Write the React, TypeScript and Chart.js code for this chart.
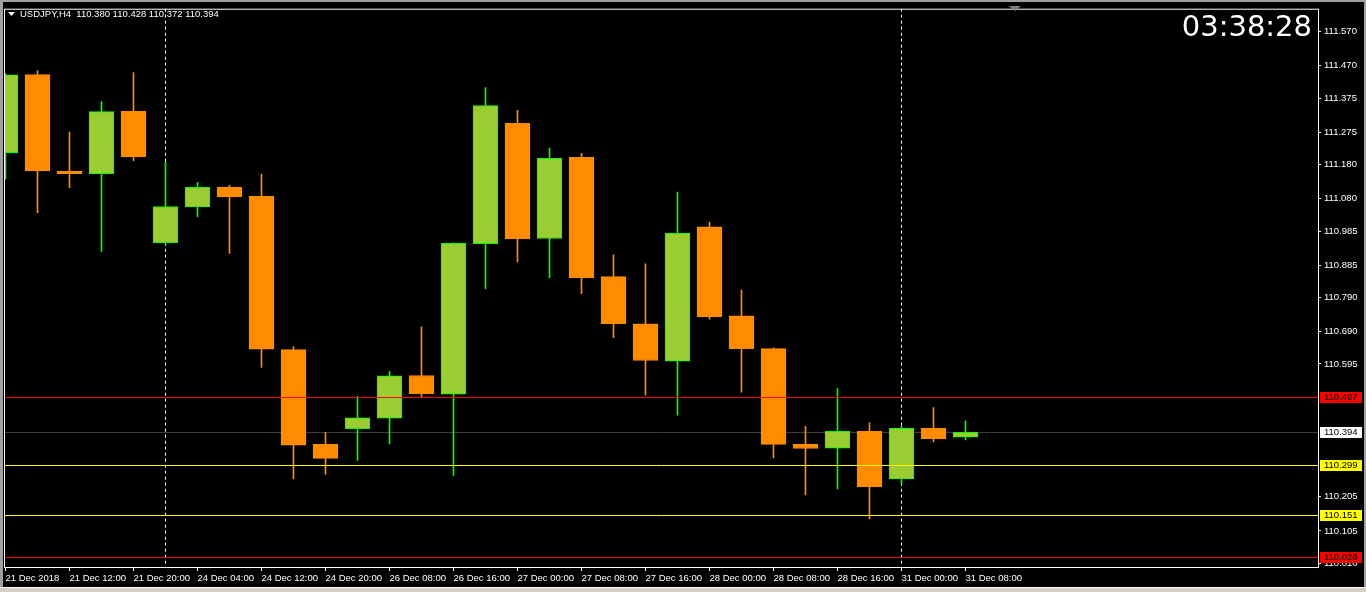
import React, { useEffect, useRef } from "react";
import { Chart, registerables } from "chart.js";

Chart.register(...registerables);

// ---- data ----
const timeLabels = [
  "21 Dec 2018", "21 Dec 08:00", "21 Dec 12:00", "21 Dec 16:00", "21 Dec 20:00",
  "24 Dec 00:00", "24 Dec 04:00", "24 Dec 08:00", "24 Dec 12:00", "24 Dec 16:00",
  "24 Dec 20:00", "26 Dec 04:00", "26 Dec 08:00", "26 Dec 12:00", "26 Dec 16:00",
  "26 Dec 20:00", "27 Dec 00:00", "27 Dec 04:00", "27 Dec 08:00", "27 Dec 12:00",
  "27 Dec 16:00", "27 Dec 20:00", "28 Dec 00:00", "28 Dec 04:00", "28 Dec 08:00",
  "28 Dec 12:00", "28 Dec 16:00", "28 Dec 20:00", "31 Dec 00:00", "31 Dec 04:00",
  "31 Dec 08:00",
];
const timeTickIndexes = [0, 2, 4, 6, 8, 10, 12, 14, 16, 18, 20, 22, 24, 26, 28, 30];

const opens = [
  111.215, 111.444, 111.161, 111.153, 111.336, 110.951, 111.056, 111.114, 111.087, 110.637,
  110.359, 110.405, 110.436, 110.561, 110.506, 110.948, 111.301, 110.963, 111.201, 110.851,
  110.713, 110.603, 110.997, 110.736, 110.640, 110.359, 110.348, 110.397, 110.258, 110.406,
  110.380,
];
const highs = [
  111.447, 111.456, 111.275, 111.365, 111.450, 111.187, 111.128, 111.120, 111.152, 110.646,
  110.394, 110.500, 110.573, 110.704, 110.950, 111.406, 111.339, 111.228, 111.213, 110.915,
  110.889, 111.099, 111.011, 110.812, 110.642, 110.412, 110.523, 110.423, 110.412, 110.467,
  110.428,
];
const lows = [
  111.138, 111.039, 111.112, 110.925, 111.191, 110.945, 111.027, 110.919, 110.585, 110.258,
  110.271, 110.312, 110.360, 110.495, 110.268, 110.816, 110.894, 110.848, 110.801, 110.672,
  110.503, 110.445, 110.726, 110.512, 110.319, 110.211, 110.228, 110.140, 110.243, 110.366,
  110.372,
];
const closes = [
  111.443, 111.161, 111.153, 111.335, 111.202, 111.057, 111.113, 111.085, 110.638, 110.357,
  110.318, 110.437, 110.560, 110.508, 110.949, 111.353, 110.962, 111.198, 110.848, 110.713,
  110.605, 110.978, 110.733, 110.640, 110.359, 110.347, 110.397, 110.234, 110.406, 110.375,
  110.394,
];

const priceTicks = [
  111.570, 111.470, 111.375, 111.275, 111.180, 111.080, 110.985, 110.885, 110.790,
  110.690, 110.595, 110.205, 110.105, 110.010,
];

const levelPrices = [110.497, 110.394, 110.299, 110.151, 110.028];
const levelLineColors = ["#FF0000", "#3C3C3C", "#FFFF00", "#FFFF00", "#FF0000"];
const levelLabelColors = ["#FF0000", "#FFFFFF", "#FFFF00", "#FFFF00", "#FF0000"];
const levelOnTop = [true, false, true, true, true];

const separatorIndexes = [5, 28];

const titleText = "USDJPY,H4  110.380 110.428 110.372 110.394";
const clockText = "03:38:28";

const BULL_FILL = "#9ACD32";
const BULL_EDGE = "#00FF00";
const BEAR_FILL = "#FF8C00";
const FONT = "'Liberation Sans', Arial, sans-serif";

export default function App() {
  const ref = useRef<HTMLCanvasElement | null>(null);

  useEffect(() => {
    const canvas = ref.current;
    if (!canvas) return;

    const bull = closes.map((c, i) => c >= opens[i]);
    const bodyData = opens.map((o, i) => ({ x: i, y: [o, closes[i]] }));
    const wickData = lows.map((l, i) => ({ x: i, y: [l, highs[i]] }));

    const mtPlugin = {
      id: "mtPlugin",
      beforeDatasetsDraw(chart: any) {
        const { ctx, chartArea: a, scales } = chart;
        const xs = scales.x;
        const ys = scales.y;
        ctx.save();
        ctx.strokeStyle = "#FFFFFF";
        ctx.lineWidth = 1;
        ctx.setLineDash([3, 3]);
        separatorIndexes.forEach((idx) => {
          const px = Math.floor(xs.getPixelForValue(idx)) + 0.5;
          ctx.beginPath();
          ctx.moveTo(px, a.top);
          ctx.lineTo(px, a.bottom);
          ctx.stroke();
        });
        ctx.setLineDash([]);
        levelPrices.forEach((p, i) => {
          if (levelOnTop[i]) return;
          const py = Math.round(ys.getPixelForValue(p)) + 0.5;
          ctx.strokeStyle = levelLineColors[i];
          ctx.beginPath();
          ctx.moveTo(a.left, py);
          ctx.lineTo(a.right, py);
          ctx.stroke();
        });
        ctx.restore();
      },
      afterDatasetsDraw(chart: any) {
        const { ctx, chartArea: a, scales } = chart;
        const ys = scales.y;
        ctx.save();
        ctx.lineWidth = 1;
        levelPrices.forEach((p, i) => {
          if (!levelOnTop[i]) return;
          const py = Math.round(ys.getPixelForValue(p)) + 0.5;
          ctx.strokeStyle = levelLineColors[i];
          ctx.beginPath();
          ctx.moveTo(a.left, py);
          ctx.lineTo(a.right, py);
          ctx.stroke();
        });
        ctx.restore();
      },
      afterDraw(chart: any) {
        const { ctx, chartArea: a, scales, width, height } = chart;
        const ys = scales.y;
        ctx.save();
        // frame
        ctx.strokeStyle = "#FFFFFF";
        ctx.lineWidth = 1;
        ctx.strokeRect(a.left - 0.5, a.top + 0.5, a.right - a.left + 1, a.bottom - a.top - 1);
        // level labels
        ctx.font = `9.5px ${FONT}`;
        ctx.textBaseline = "middle";
        ctx.textAlign = "left";
        levelPrices.forEach((p, i) => {
          const py = Math.round(ys.getPixelForValue(p));
          ctx.fillStyle = levelLabelColors[i];
          ctx.fillRect(a.right + 2, py - 5, 42, 11);
          ctx.fillStyle = "#000000";
          ctx.fillText(p.toFixed(3), a.right + 6, py + 0.5);
        });
        // title
        ctx.fillStyle = "#FFFFFF";
        ctx.beginPath();
        ctx.moveTo(8, 12);
        ctx.lineTo(15, 12);
        ctx.lineTo(11.5, 16);
        ctx.closePath();
        ctx.fill();
        ctx.font = `9.5px ${FONT}`;
        ctx.fillText(titleText, 20, 14.5);
        // clock
        ctx.font = `29px 'DejaVu Sans', sans-serif`;
        ctx.textAlign = "right";
        ctx.fillText(clockText, 1312, 28);
        // shift marker
        ctx.fillStyle = "#808080";
        ctx.beginPath();
        ctx.moveTo(1009, 6);
        ctx.lineTo(1021, 6);
        ctx.lineTo(1015, 11);
        ctx.closePath();
        ctx.fill();
        // window borders
        ctx.fillStyle = "#A0A0A0";
        ctx.fillRect(0, 0, width, 2);
        ctx.fillRect(0, 0, 3, height);
        ctx.fillRect(width - 2, 0, 2, height);
        ctx.fillStyle = "#D4D0C8";
        ctx.fillRect(0, height - 4, width, 4);
        ctx.fillStyle = "#FFFFFF";
        ctx.fillRect(0, height - 5, width, 1);
        ctx.restore();
      },
    };

    const chart = new Chart(canvas, {
      type: "bar",
      data: {
        datasets: [
          {
            label: "body",
            data: bodyData as any,
            backgroundColor: bull.map((b) => (b ? BULL_FILL : BEAR_FILL)),
            borderColor: bull.map((b) => (b ? BULL_EDGE : BEAR_FILL)),
            borderWidth: 1,
            borderSkipped: false,
            barThickness: 25,
            grouped: false,
            order: 0,
          } as any,
          {
            label: "wick",
            data: wickData as any,
            backgroundColor: bull.map((b) => (b ? BULL_EDGE : BEAR_FILL)),
            borderWidth: 0,
            barThickness: 1,
            grouped: false,
            order: 1,
          } as any,
        ],
      },
      options: {
        animation: false,
        responsive: false,
        devicePixelRatio: 1,
        layout: { padding: { left: 5, top: 6, right: 0, bottom: 0 } },
        plugins: {
          legend: { display: false },
          tooltip: { enabled: false },
        },
        scales: {
          x: {
            type: "linear",
            offset: false,
            min: -0.015625,
            max: 41.015625,
            grid: {
              display: true,
              offset: false,
              drawOnChartArea: false,
              drawTicks: true,
              tickLength: 3,
              color: "#FFFFFF",
            },
            border: { display: false },
            afterBuildTicks: (scale: any) => {
              scale.ticks = timeTickIndexes.map((v) => ({ value: v }));
            },
            afterFit: (scale: any) => {
              scale.height = 24;
            },
            ticks: {
              autoSkip: false,
              maxRotation: 0,
              minRotation: 0,
              align: "start",
              color: "#FFFFFF",
              padding: 2,
              font: { family: FONT, size: 9.5 },
              callback: (v: any) => timeLabels[Number(v)] ?? "",
            },
          },
          y: {
            type: "linear",
            position: "right",
            min: 109.9963,
            max: 111.6372,
            grid: {
              display: true,
              drawOnChartArea: false,
              drawTicks: true,
              tickLength: 3,
              color: "#FFFFFF",
            },
            border: { display: false },
            afterBuildTicks: (scale: any) => {
              scale.ticks = priceTicks.map((v) => ({ value: v }));
            },
            afterFit: (scale: any) => {
              scale.width = 48;
            },
            ticks: {
              color: "#FFFFFF",
              padding: 3,
              font: { family: FONT, size: 9.5 },
              callback: (v: any) => Number(v).toFixed(3),
            },
          },
        },
      },
      plugins: [mtPlugin],
    } as any);

    return () => {
      chart.destroy();
    };
  }, []);

  return (
    <div
      style={{
        position: "fixed",
        left: 0,
        top: 0,
        width: 1366,
        height: 592,
        background: "#000000",
      }}
    >
      <canvas ref={ref} width={1366} height={592} style={{ display: "block" }} />
    </div>
  );
}
